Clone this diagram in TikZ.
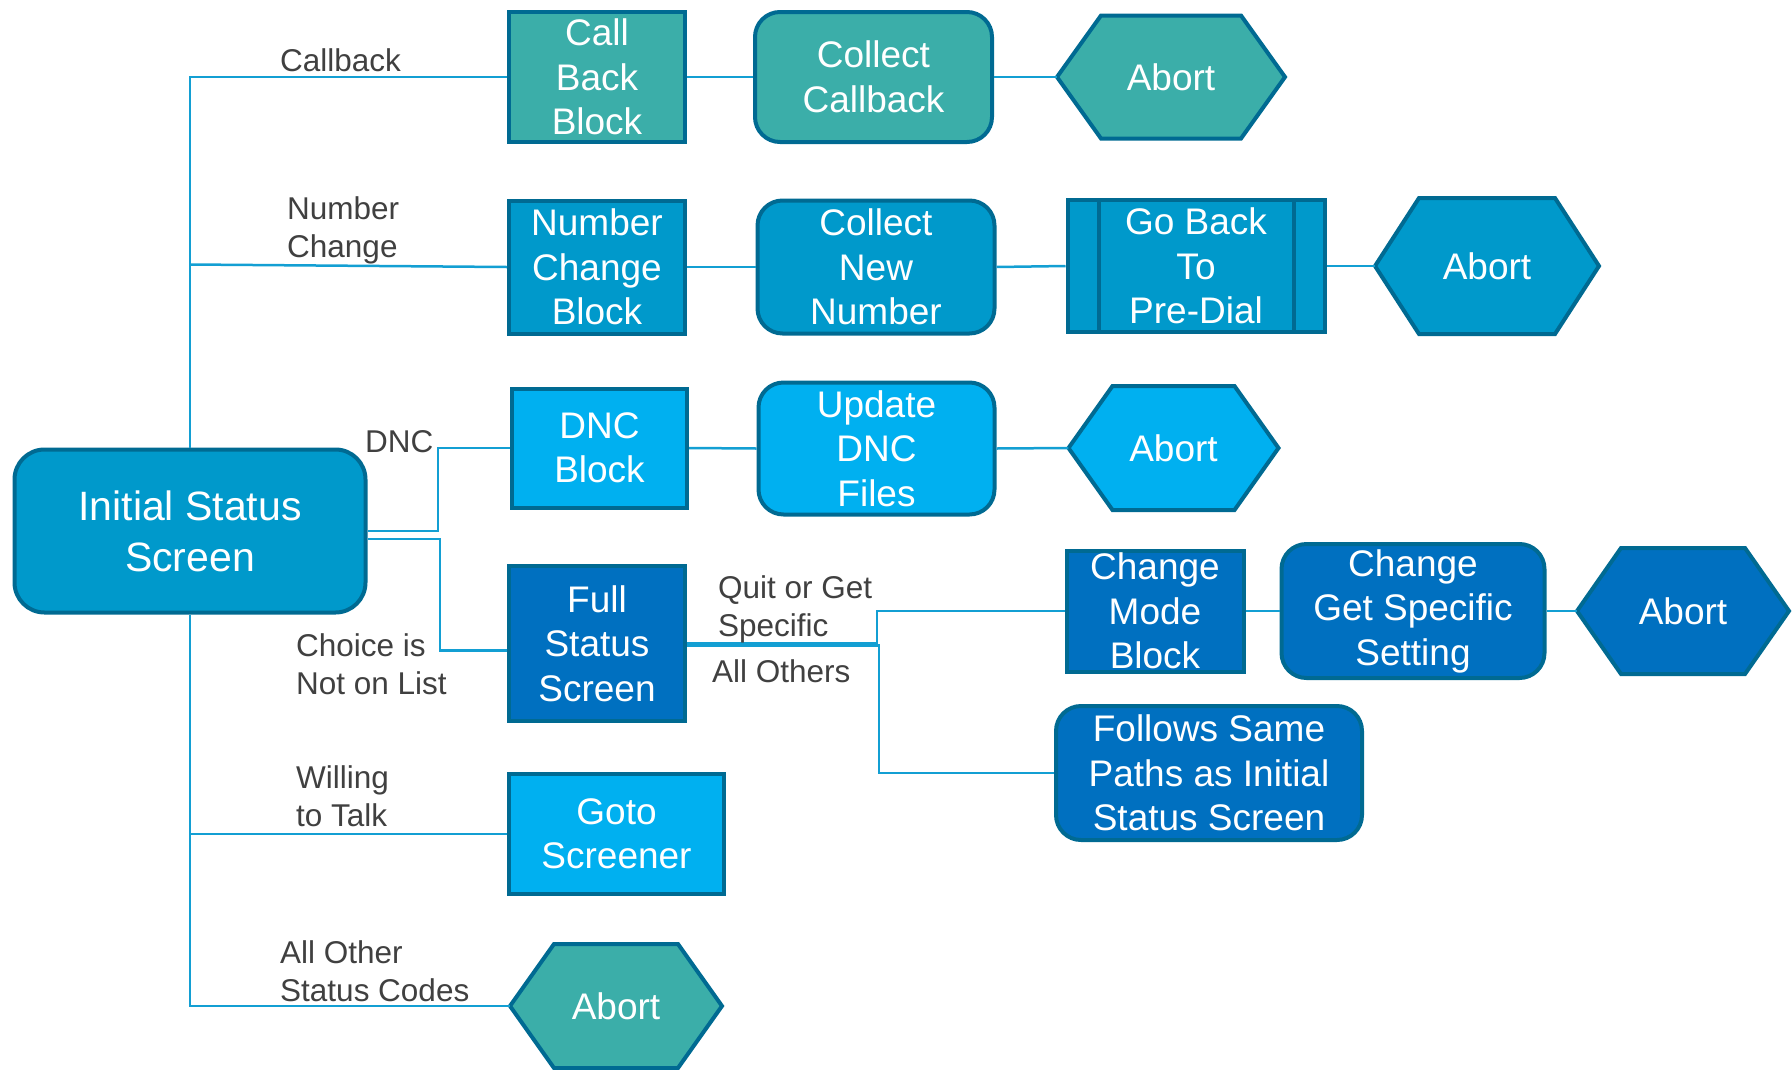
\documentclass[tikz,border=0pt]{standalone}
\usepackage{fontspec}
\setmainfont{Liberation Sans}
\usepackage{color}

\definecolor{tealc}{HTML}{3BAEA9}
\definecolor{midc}{HTML}{0099CB}
\definecolor{brightc}{HTML}{00B0F0}
\definecolor{darkc}{HTML}{0070C0}
\definecolor{edgec}{HTML}{006A92}
\definecolor{connc}{HTML}{139FD3}
\definecolor{labc}{HTML}{404040}

\newcommand{\boxfont}{\fontsize{37}{44.5}\selectfont}
\newcommand{\initfont}{\fontsize{41}{51}\selectfont}
\newcommand{\labfont}{\fontsize{31.5}{38}\selectfont}

% hexagon "Abort": name, x, y, half width, half height, fill
\newcommand{\abortnode}[6]{%
	\draw[draw=edgec, line width=4pt, fill=#6] (#2-#4,#3) -- (#2-#4+44,#3-#5) -- (#2+#4-44,#3-#5) -- (#2+#4,#3) -- (#2+#4-44,#3+#5) -- (#2-#4+44,#3+#5) -- cycle;
	\node[text=white, font=\boxfont, inner sep=0pt, minimum width=2*#4, minimum height=2*#5] (#1) at (#2,#3) {Abort};
}

\begin{document}
\begin{tikzpicture}[x=1pt, y=-1pt,
	blockbox/.style={draw=edgec, line width=4pt, text=white, font=\boxfont, align=center, inner sep=0pt},
	roundbox/.style={blockbox, rounded corners=25pt},
	conn/.style={draw=connc, line width=2.5pt},
	lbl/.style={text=labc, font=\labfont, align=left, inner sep=0pt, anchor=base west}]
	\useasboundingbox (0,0) rectangle (1792,1069);

	% boxes
	\node[roundbox, rounded corners=30pt, fill=midc, font=\initfont, minimum width=351pt, minimum height=163pt] (init) at (190,531) {Initial Status\\Screen};

	\node[blockbox, fill=tealc, minimum width=176pt, minimum height=130pt] (cbb) at (597,77) {Call\\Back\\Block};
	\node[roundbox, fill=tealc, minimum width=237pt, minimum height=130pt] (colcb) at (873.5,77) {Collect\\Callback};
	\abortnode{ab1}{1171}{77}{114}{61.5}{tealc}

	\node[blockbox, fill=midc, minimum width=176pt, minimum height=133pt] (ncb) at (597,267) {Number\\Change\\Block};
	\node[roundbox, fill=midc, minimum width=237pt, minimum height=133pt] (colnew) at (876,267) {Collect\\New\\Number};
	\node[blockbox, fill=midc, minimum width=257pt, minimum height=132pt] (gb) at (1196,266) {Go Back\\To\\Pre-Dial};
	\draw[edgec, line width=4pt] ([xshift=33pt]gb.north west) -- ([xshift=33pt]gb.south west);
	\draw[edgec, line width=4pt] ([xshift=-33pt]gb.north east) -- ([xshift=-33pt]gb.south east);
	\abortnode{ab2}{1487}{266}{112}{68}{midc}

	\node[blockbox, fill=brightc, minimum width=175pt, minimum height=119pt] (dnc) at (599.5,448) {DNC\\Block};
	\node[roundbox, fill=brightc, minimum width=236pt, minimum height=132pt] (upd) at (876.5,448.5) {Update\\DNC\\Files};
	\abortnode{ab3}{1173.5}{448}{105}{62}{brightc}

	\node[blockbox, fill=darkc, minimum width=176pt, minimum height=155pt] (fss) at (597,643.5) {Full\\Status\\Screen};
	\node[blockbox, fill=darkc, minimum width=177pt, minimum height=121pt] (cmb) at (1155,611) {Change\\Mode\\Block};
	\node[roundbox, fill=darkc, minimum width=263pt, minimum height=134pt] (cgs) at (1413,611) {Change\\Get Specific\\Setting};
	\abortnode{ab4}{1683}{611}{106}{63}{darkc}
	\node[roundbox, fill=darkc, minimum width=306pt, minimum height=134pt] (fsp) at (1209,773) {Follows Same\\Paths as Initial\\Status Screen};

	\node[blockbox, fill=brightc, minimum width=215pt, minimum height=120pt] (goto) at (616.5,834) {Goto\\Screener};
	\abortnode{ab5}{616}{1006}{106}{62}{tealc}

	% connectors
	\coordinate (tnc) at (190,264.5);
	\coordinate (bdnc) at (438,531);
	\coordinate (bfss) at (440,539);
	\coordinate (bsplit) at (877,643.5);
	\coordinate (bothers) at (879,645.5);
	\draw[conn] (init.north) |- (cbb.west);
	\draw[conn] (tnc) -- (ncb.west);
	\draw[conn] (init.east) -- (bdnc) |- (dnc.west);
	\draw[conn] ([yshift=-8pt]init.east) -- (bfss) |- ([yshift=-7pt]fss.west);
	\draw[conn] (init.south) |- (ab5.west);
	\draw[conn] (init.south |- goto.west) -- (goto.west);

	\draw[conn] (cbb.east) -- (colcb.west);
	\draw[conn] (colcb.east) -- (ab1.west);
	\draw[conn] (ncb.east) -- (colnew.west);
	\draw[conn] (colnew.east) -- (gb.west);
	\draw[conn] (gb.east) -- (ab2.west);
	\draw[conn] (dnc.east) -- (upd.west);
	\draw[conn] (upd.east) -- (ab3.west);
	\draw[conn] (fss.east) -- (bsplit) |- (cmb.west);
	\draw[conn] ([yshift=-2pt]fss.east) -- (bothers) |- (fsp.west);
	\draw[conn] (cmb.east) -- (cgs.west);
	\draw[conn] (cgs.east) -- (ab4.west);

	% labels (base = last line)
	\node[lbl] (lcb) at (280,71) {Callback};
	\node[lbl] (lnc) at (287,257) {Number\\Change};
	\node[lbl] (ldnc) at (365,452) {DNC};
	\node[lbl] (lnot) at (296,694.5) {Choice is\\Not on List};
	\node[lbl] (lquit) at (718,636) {Quit or Get\\Specific};
	\node[lbl] (lall) at (712,682) {All Others};
	\node[lbl] (lwt) at (296,826) {Willing\\to Talk};
	\node[lbl] (lother) at (280,1001.5) {All Other\\Status Codes};
\end{tikzpicture}
\end{document}
